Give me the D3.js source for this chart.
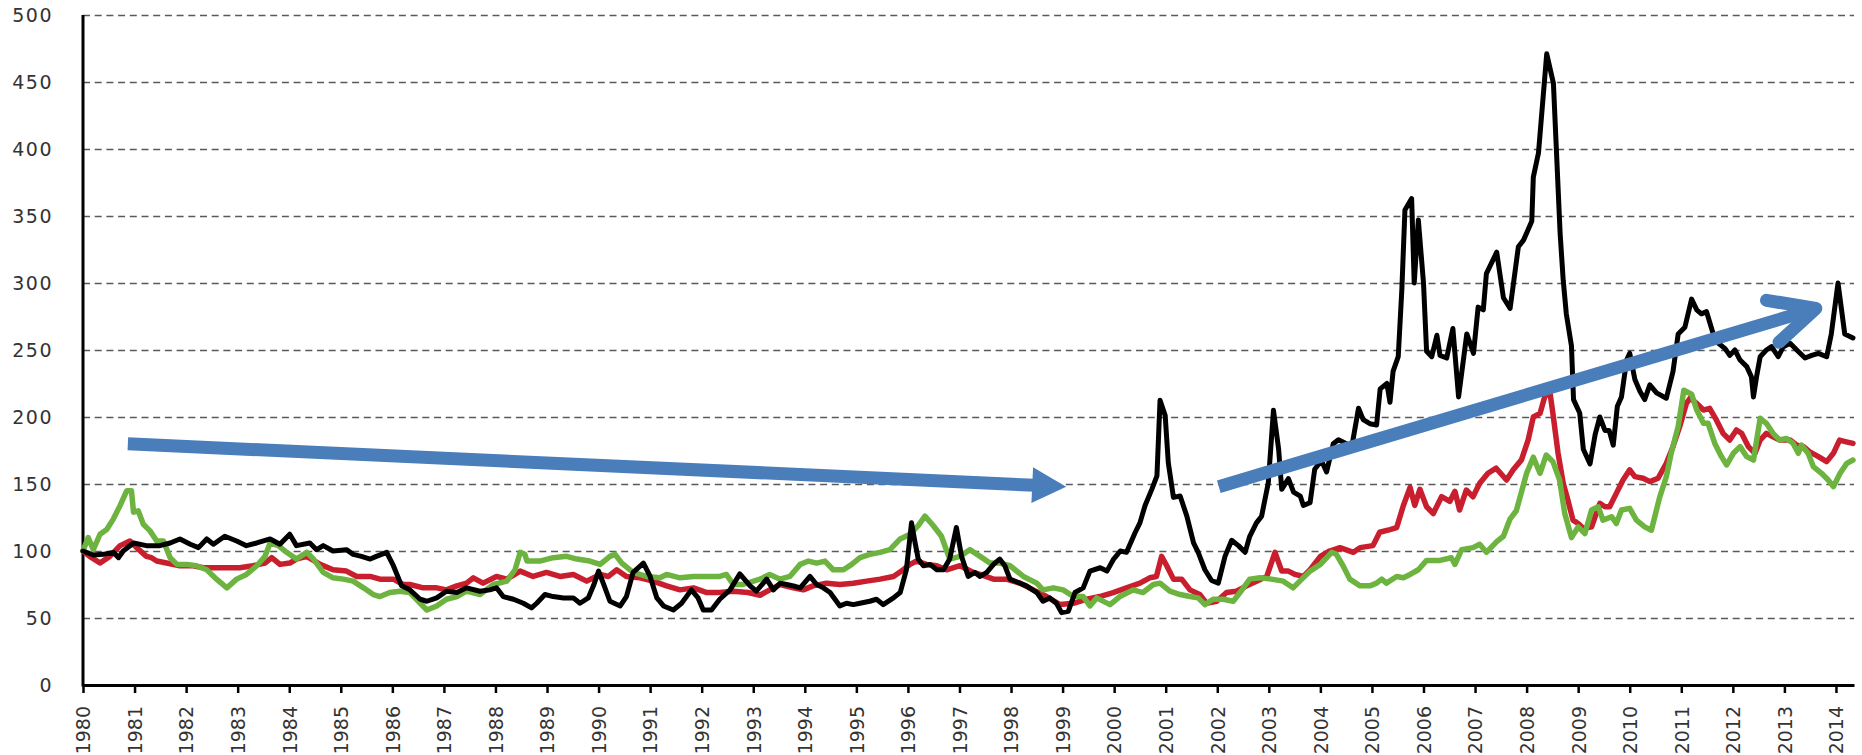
<!DOCTYPE html>
<html>
<head>
<meta charset="utf-8">
<script src="https://cdn.jsdelivr.net/npm/d3@7.9.0/dist/d3.min.js"></script>
<style>
    body { margin: 0; background: #fff; }
    svg { display: block; }
    .tick-label { font-family: "DejaVu Sans", sans-serif; font-size: 19px; fill: #333; }
</style>
</head>
<body>
<div id="chart-container"></div>
<script>
// [decimal year, index value]
const blackSeries = [
    [1980.00, 100], [1980.20, 97], [1980.39, 97.5], [1980.59, 99], [1980.69, 95], [1980.78, 100], [1980.98, 106],
    [1981.23, 104], [1981.49, 104], [1981.69, 106], [1981.88, 109], [1982.08, 105], [1982.24, 102.5], [1982.40, 109],
    [1982.53, 105], [1982.75, 111], [1982.98, 107.5], [1983.17, 104], [1983.37, 106], [1983.63, 109], [1983.82, 105],
    [1984.01, 112.5], [1984.14, 104], [1984.40, 106], [1984.53, 101], [1984.66, 104], [1984.85, 100], [1985.11, 101],
    [1985.24, 97.5], [1985.40, 96], [1985.57, 94], [1985.69, 96], [1985.89, 99], [1986.02, 89], [1986.18, 74],
    [1986.34, 71], [1986.54, 64], [1986.67, 62.5], [1986.86, 65], [1987.05, 70], [1987.25, 69], [1987.44, 72.5],
    [1987.70, 70], [1987.89, 71], [1988.02, 72.5], [1988.15, 66], [1988.35, 64], [1988.54, 61], [1988.70, 57.5],
    [1988.80, 61], [1988.96, 67.5], [1989.12, 66], [1989.32, 65], [1989.51, 65], [1989.64, 61], [1989.80, 65],
    [1989.90, 74], [1990.00, 85], [1990.09, 76], [1990.22, 62.5], [1990.42, 59], [1990.54, 66], [1990.67, 84],
    [1990.87, 91], [1991.00, 81], [1991.13, 65], [1991.26, 59], [1991.45, 56], [1991.61, 61], [1991.80, 71],
    [1991.93, 65], [1992.03, 56], [1992.19, 56], [1992.35, 64], [1992.55, 71], [1992.74, 83], [1992.94, 74],
    [1993.06, 70], [1993.26, 79], [1993.39, 71], [1993.52, 76], [1993.65, 75], [1993.78, 74], [1993.91, 72.5],
    [1994.10, 81], [1994.23, 75], [1994.36, 72.5], [1994.49, 69], [1994.68, 59], [1994.81, 61], [1994.94, 60],
    [1995.07, 61], [1995.26, 62.5], [1995.39, 64], [1995.52, 60], [1995.72, 65], [1995.85, 69], [1995.97, 86],
    [1996.07, 121], [1996.14, 106], [1996.20, 94], [1996.30, 89], [1996.43, 90], [1996.56, 86], [1996.69, 86],
    [1996.81, 94], [1996.94, 117.5], [1997.04, 96], [1997.17, 81], [1997.30, 84], [1997.40, 81], [1997.53, 84],
    [1997.66, 90], [1997.78, 94], [1997.88, 89], [1997.98, 79], [1998.17, 76], [1998.30, 74], [1998.50, 69],
    [1998.62, 62.5], [1998.75, 65], [1998.88, 61], [1998.98, 54], [1999.11, 55], [1999.24, 69], [1999.40, 72.5],
    [1999.53, 85], [1999.73, 87.5], [1999.86, 85], [1999.99, 94], [2000.12, 100], [2000.24, 99], [2000.41, 114],
    [2000.50, 121], [2000.60, 134], [2000.73, 146], [2000.83, 156], [2000.89, 212.5], [2000.99, 201], [2001.05, 166],
    [2001.15, 140], [2001.28, 141], [2001.41, 126], [2001.54, 106], [2001.63, 99], [2001.76, 86], [2001.89, 78],
    [2002.02, 76], [2002.15, 96], [2002.28, 108], [2002.41, 104], [2002.54, 99], [2002.63, 111], [2002.76, 121],
    [2002.86, 126], [2002.99, 151], [2003.09, 205], [2003.19, 176], [2003.25, 146], [2003.38, 154], [2003.48, 144],
    [2003.61, 141], [2003.67, 134], [2003.80, 136], [2003.89, 161], [2004.02, 167.5], [2004.12, 159], [2004.25, 180],
    [2004.35, 183], [2004.61, 178], [2004.74, 206.5], [2004.83, 198], [2004.96, 195], [2005.09, 194], [2005.16, 221],
    [2005.29, 225], [2005.35, 211], [2005.41, 234], [2005.51, 245], [2005.58, 295], [2005.64, 354.5], [2005.77, 363],
    [2005.82, 300], [2005.90, 347], [2006.00, 300], [2006.06, 249], [2006.16, 245], [2006.26, 261], [2006.32, 246],
    [2006.45, 244], [2006.57, 266], [2006.68, 215], [2006.84, 262], [2006.97, 247.5], [2007.06, 282], [2007.16, 280],
    [2007.22, 307], [2007.42, 323], [2007.55, 289], [2007.68, 281], [2007.84, 327], [2007.94, 332], [2008.10, 346],
    [2008.13, 379], [2008.23, 397], [2008.39, 471], [2008.52, 449], [2008.65, 337], [2008.71, 302], [2008.77, 277],
    [2008.87, 253], [2008.91, 213], [2009.03, 203], [2009.10, 176], [2009.23, 165], [2009.33, 187], [2009.42, 200],
    [2009.52, 190], [2009.60, 190], [2009.68, 179], [2009.76, 208], [2009.84, 215], [2009.94, 242.5], [2010.00, 247.5],
    [2010.10, 228], [2010.20, 219], [2010.29, 213], [2010.39, 224], [2010.52, 218], [2010.71, 214], [2010.84, 234],
    [2010.94, 262], [2011.07, 267], [2011.20, 288], [2011.30, 280], [2011.39, 277], [2011.49, 278.6], [2011.62, 262],
    [2011.72, 255], [2011.85, 251], [2011.94, 246], [2012.04, 250], [2012.14, 242.5], [2012.27, 237.6], [2012.36, 230],
    [2012.40, 215], [2012.46, 230], [2012.53, 245], [2012.65, 250], [2012.75, 252.5], [2012.88, 245], [2012.98, 252.5],
    [2013.11, 255], [2013.24, 250], [2013.40, 244], [2013.53, 246], [2013.66, 247.5], [2013.82, 245], [2013.91, 262],
    [2014.04, 300], [2014.17, 262], [2014.33, 259]
];

const redSeries = [
    [1980.00, 100], [1980.13, 96], [1980.33, 91], [1980.52, 96], [1980.72, 104], [1980.91, 107.5], [1981.04, 102.5],
    [1981.23, 96], [1981.33, 95], [1981.43, 92.5], [1981.62, 91], [1981.88, 89], [1982.14, 89], [1982.33, 87.5],
    [1982.53, 87.5], [1982.79, 87.5], [1983.04, 87.5], [1983.30, 89], [1983.53, 91], [1983.66, 95], [1983.82, 90],
    [1984.01, 91], [1984.14, 94], [1984.34, 96], [1984.60, 90], [1984.85, 86], [1985.11, 85], [1985.31, 81],
    [1985.57, 81], [1985.76, 79], [1986.02, 79], [1986.21, 75], [1986.34, 75], [1986.60, 72.5], [1986.86, 72.5],
    [1987.05, 71], [1987.25, 74], [1987.44, 76], [1987.57, 80], [1987.76, 76], [1988.02, 81], [1988.22, 79],
    [1988.48, 85], [1988.73, 81], [1988.99, 84], [1989.25, 81], [1989.51, 82.5], [1989.77, 77.5], [1990.03, 82.5],
    [1990.19, 81], [1990.35, 86], [1990.54, 81], [1990.80, 80], [1991.06, 77.5], [1991.32, 74], [1991.58, 71],
    [1991.84, 72.5], [1992.10, 69], [1992.35, 69], [1992.61, 70], [1992.90, 69], [1993.13, 67], [1993.32, 71],
    [1993.52, 75], [1993.78, 72.5], [1993.97, 71], [1994.16, 74], [1994.42, 76], [1994.68, 75], [1994.94, 76],
    [1995.20, 77.5], [1995.46, 79], [1995.72, 81], [1995.91, 86], [1996.04, 90], [1996.17, 92.5], [1996.36, 90],
    [1996.56, 89], [1996.75, 86], [1997.01, 89], [1997.27, 84], [1997.40, 82.5], [1997.66, 79], [1997.91, 79],
    [1998.17, 76], [1998.43, 71], [1998.69, 66], [1998.95, 60], [1999.21, 61], [1999.47, 64], [1999.72, 66],
    [1999.98, 69], [2000.24, 72.5], [2000.50, 76], [2000.69, 80], [2000.82, 81], [2000.92, 96], [2001.02, 89],
    [2001.15, 79], [2001.31, 79], [2001.47, 71], [2001.66, 67.5], [2001.79, 61], [2001.99, 62.5], [2002.18, 69],
    [2002.37, 70], [2002.57, 74], [2002.76, 77.5], [2002.96, 81], [2003.12, 99], [2003.25, 85], [2003.38, 85],
    [2003.51, 82.5], [2003.67, 81], [2003.80, 86], [2004.00, 96], [2004.18, 100], [2004.38, 102.5], [2004.64, 99],
    [2004.77, 102.5], [2005.02, 104], [2005.15, 114], [2005.35, 116], [2005.48, 117.5], [2005.61, 134], [2005.74, 147.5],
    [2005.83, 134], [2005.93, 146], [2006.06, 133], [2006.19, 128], [2006.35, 140.5], [2006.51, 137], [2006.61, 144.5],
    [2006.70, 130.6], [2006.83, 145.5], [2006.96, 140.5], [2007.09, 150.5], [2007.25, 158], [2007.41, 161.8],
    [2007.61, 153], [2007.74, 160.6], [2007.90, 168], [2008.03, 183], [2008.13, 200], [2008.26, 202.7], [2008.35, 215],
    [2008.45, 219], [2008.51, 202.7], [2008.61, 173], [2008.71, 150.5], [2008.80, 138], [2008.90, 123], [2009.00, 120.5],
    [2009.10, 116.8], [2009.26, 118], [2009.42, 135.5], [2009.52, 133], [2009.61, 133], [2009.74, 143], [2009.87, 153],
    [2010.00, 160.6], [2010.10, 155.5], [2010.26, 154.3], [2010.39, 151.8], [2010.55, 154.3], [2010.71, 165.5],
    [2010.84, 178], [2010.97, 193], [2011.10, 210.2], [2011.17, 214], [2011.30, 210.2], [2011.43, 205.2],
    [2011.55, 206.5], [2011.68, 197.8], [2011.81, 187.8], [2011.94, 182.8], [2012.07, 190.3], [2012.17, 187.8],
    [2012.30, 177.9], [2012.43, 172.9], [2012.53, 182.8], [2012.65, 187.8], [2012.78, 185.3], [2012.91, 182.8],
    [2013.11, 182.8], [2013.24, 179], [2013.37, 177.9], [2013.49, 174], [2013.66, 170.4], [2013.82, 166.7],
    [2013.95, 172.9], [2014.07, 182.8], [2014.20, 181.5], [2014.33, 180.3]
];

const greenSeries = [
    [1980.00, 100], [1980.10, 110], [1980.20, 101], [1980.33, 112.5], [1980.46, 116], [1980.59, 124], [1980.72, 134],
    [1980.85, 145], [1980.94, 145], [1980.98, 129], [1981.07, 130], [1981.17, 120], [1981.30, 115], [1981.43, 107.5],
    [1981.56, 107.5], [1981.69, 95], [1981.82, 90], [1982.01, 90], [1982.20, 89], [1982.40, 86], [1982.59, 79],
    [1982.79, 72.5], [1982.98, 79], [1983.17, 82.5], [1983.37, 89], [1983.53, 96], [1983.63, 106], [1983.79, 104],
    [1983.95, 99], [1984.14, 94], [1984.34, 99], [1984.47, 94], [1984.66, 84], [1984.85, 80], [1985.05, 79],
    [1985.24, 77.5], [1985.44, 72.5], [1985.63, 67.5], [1985.76, 66], [1985.95, 69], [1986.15, 70], [1986.34, 69],
    [1986.54, 61], [1986.67, 56], [1986.86, 59], [1987.05, 64], [1987.25, 66], [1987.44, 70], [1987.70, 67.5],
    [1987.96, 75], [1988.22, 77.5], [1988.38, 86], [1988.48, 99], [1988.57, 97.5], [1988.61, 92.5], [1988.86, 92.5],
    [1989.12, 95], [1989.38, 96], [1989.58, 94], [1989.83, 92.5], [1990.03, 90], [1990.22, 96], [1990.32, 97.5],
    [1990.45, 91], [1990.67, 84], [1990.93, 81], [1991.19, 80], [1991.32, 82.5], [1991.58, 80], [1991.84, 81],
    [1992.10, 81], [1992.35, 81], [1992.48, 82.5], [1992.61, 75], [1992.80, 75], [1993.13, 79], [1993.32, 82.5],
    [1993.52, 79], [1993.71, 81], [1993.91, 90], [1994.07, 92.5], [1994.23, 91], [1994.39, 92.5], [1994.55, 86],
    [1994.75, 86], [1994.91, 90], [1995.07, 95], [1995.26, 97.5], [1995.46, 99], [1995.65, 101], [1995.85, 109],
    [1996.04, 112.5], [1996.20, 119], [1996.33, 126], [1996.49, 119], [1996.65, 111], [1996.81, 94], [1997.01, 96],
    [1997.20, 101], [1997.40, 96], [1997.59, 91], [1997.78, 91], [1997.98, 89], [1998.24, 81], [1998.50, 76],
    [1998.62, 71], [1998.82, 72.5], [1999.01, 71], [1999.21, 66], [1999.40, 66], [1999.53, 59], [1999.66, 65],
    [1999.92, 60], [2000.11, 66], [2000.37, 71], [2000.56, 69], [2000.76, 75], [2000.89, 76], [2001.08, 70],
    [2001.28, 67.5], [2001.47, 66], [2001.63, 65], [2001.76, 60], [2001.92, 64], [2002.12, 64], [2002.31, 62.5],
    [2002.44, 69], [2002.63, 79], [2002.83, 80], [2003.05, 79], [2003.28, 77.5], [2003.47, 72.5], [2003.60, 77.5],
    [2003.80, 85], [2004.00, 90], [2004.22, 99], [2004.31, 97.5], [2004.44, 89], [2004.57, 79], [2004.77, 74],
    [2004.96, 74], [2005.09, 76], [2005.19, 79], [2005.28, 76], [2005.48, 81], [2005.61, 80], [2005.74, 82.5],
    [2005.90, 86], [2006.06, 93], [2006.32, 93], [2006.54, 95], [2006.61, 90], [2006.74, 101], [2006.96, 102.5],
    [2007.09, 105], [2007.22, 99], [2007.42, 107], [2007.55, 111], [2007.68, 124], [2007.80, 130], [2008.00, 158],
    [2008.13, 170], [2008.26, 158], [2008.38, 171.6], [2008.51, 166.7], [2008.64, 153], [2008.74, 128], [2008.87, 110],
    [2009.00, 118], [2009.13, 113], [2009.26, 130.6], [2009.39, 133], [2009.48, 123], [2009.65, 125.6], [2009.74, 120.5],
    [2009.84, 130.6], [2010.00, 131.8], [2010.13, 123], [2010.29, 118], [2010.42, 115.5], [2010.58, 140],
    [2010.71, 155.5], [2010.81, 174], [2010.94, 193], [2011.05, 220], [2011.20, 217], [2011.30, 205.2], [2011.43, 195.3],
    [2011.52, 195.3], [2011.65, 180.3], [2011.78, 170.4], [2011.88, 164.2], [2012.01, 172.9], [2012.14, 177.9],
    [2012.27, 170.4], [2012.40, 167.9], [2012.53, 199], [2012.65, 195.3], [2012.78, 187.8], [2012.91, 182.8],
    [2013.04, 184], [2013.17, 180.3], [2013.27, 172.9], [2013.33, 179], [2013.46, 172.9], [2013.56, 163], [2013.72, 158],
    [2013.85, 153], [2013.95, 148], [2014.08, 158], [2014.21, 165.4], [2014.33, 167.9]
];

const yearTicks = d3.range(1980, 2015);
const valueTicks = [0, 50, 100, 150, 200, 250, 300, 350, 400, 450, 500];

// trend arrows, [year, value] start and end
const arrowDown = [[1980.87, 180], [1999.07, 148]];
const arrowUp = [[2002.03, 148], [2013.61, 281]];

const width = 1862;
const height = 755;
const margin = { top: 15, right: 8, bottom: 70, left: 83 };

const svg = d3.select("#chart-container").append("svg")
    .attr("width", width)
    .attr("height", height);

const x = d3.scaleLinear()
    .domain([1980, 2014.35])
    .range([margin.left, width - margin.right]);

const y = d3.scaleLinear()
    .domain([0, 500])
    .range([height - margin.bottom, margin.top]);

// dashed grid
svg.append("g")
    .attr("class", "grid")
    .attr("transform", `translate(${margin.left},0)`)
    .call(d3.axisLeft(y)
        .tickValues(valueTicks.filter(d => d > 0))
        .tickSize(-(x.range()[1] - margin.left))
        .tickFormat(""))
    .call(g => g.select(".domain").remove())
    .call(g => g.selectAll("line")
        .attr("stroke", "#5a5a5a")
        .attr("stroke-width", 1.6)
        .attr("stroke-dasharray", "7,4.7"));

// y labels
svg.append("g")
    .selectAll("text")
    .data(valueTicks)
    .enter().append("text")
    .attr("class", "tick-label")
    .attr("x", 53)
    .attr("y", d => y(d))
    .attr("dy", "0.36em")
    .attr("text-anchor", "end")
    .style("letter-spacing", "1.5px")
    .text(d => d);

// x axis with year ticks
const xAxis = svg.append("g")
    .attr("transform", `translate(0,${y(0)})`)
    .call(d3.axisBottom(x)
        .tickValues(yearTicks)
        .tickSize(8)
        .tickSizeOuter(0)
        .tickFormat(""));
xAxis.select(".domain").attr("stroke", "#000").attr("stroke-width", 3);
xAxis.selectAll(".tick line").attr("stroke", "#000").attr("stroke-width", 2.5);

xAxis.selectAll(".tick")
    .append("text")
    .attr("class", "tick-label")
    .attr("transform", "translate(0,21) rotate(-90)")
    .attr("dy", "0.36em")
    .attr("text-anchor", "end")
    .attr("fill", null)
    .text(d => d);
xAxis.attr("font-family", null).attr("font-size", null);

// y axis line
svg.append("line")
    .attr("x1", margin.left)
    .attr("x2", margin.left)
    .attr("y1", y(500))
    .attr("y2", y(0) + 1.5)
    .attr("stroke", "#000")
    .attr("stroke-width", 3);

const line = d3.line()
    .x(d => x(d[0]))
    .y(d => y(d[1]));

const seriesList = [
    { data: redSeries, color: "#c81e2d", width: 5.5 },
    { data: greenSeries, color: "#6cb33f", width: 5.5 },
    { data: blackSeries, color: "#000000", width: 5 }
];

svg.append("g")
    .selectAll("path")
    .data(seriesList)
    .enter().append("path")
    .attr("d", d => line(d.data))
    .attr("fill", "none")
    .attr("stroke", d => d.color)
    .attr("stroke-width", d => d.width)
    .attr("stroke-linejoin", "round")
    .attr("stroke-linecap", "round");

const arrowColor = "#4a7ebb";
const arrows = svg.append("g").attr("class", "arrows");

// down arrow: filled triangular head
{
    const [s, e] = arrowDown.map(p => [x(p[0]), y(p[1])]);
    const ang = Math.atan2(e[1] - s[1], e[0] - s[0]);
    const headLen = 34;
    const headHalf = 18;
    const bx = e[0] - headLen * Math.cos(ang);
    const by = e[1] - headLen * Math.sin(ang);
    arrows.append("line")
        .attr("x1", s[0]).attr("y1", s[1])
        .attr("x2", bx + 2 * Math.cos(ang)).attr("y2", by + 2 * Math.sin(ang))
        .attr("stroke", arrowColor)
        .attr("stroke-width", 13);
    const px = -Math.sin(ang), py = Math.cos(ang);
    arrows.append("path")
        .attr("d", d3.line()([
            [bx + headHalf * px, by + headHalf * py],
            e,
            [bx - headHalf * px, by - headHalf * py]
        ]) + "Z")
        .attr("fill", arrowColor);
}

// up arrow: open chevron head
{
    const [s, e] = arrowUp.map(p => [x(p[0]), y(p[1])]);
    const ang = Math.atan2(e[1] - s[1], e[0] - s[0]);
    const armLen = 50;
    const spread = 26 * Math.PI / 180;
    arrows.append("line")
        .attr("x1", s[0]).attr("y1", s[1])
        .attr("x2", e[0]).attr("y2", e[1])
        .attr("stroke", arrowColor)
        .attr("stroke-width", 13);
    const a1 = ang + Math.PI - spread;
    const a2 = ang + Math.PI + spread;
    arrows.append("path")
        .attr("d", d3.line()([
            [e[0] + armLen * Math.cos(a1), e[1] + armLen * Math.sin(a1)],
            e,
            [e[0] + armLen * Math.cos(a2), e[1] + armLen * Math.sin(a2)]
        ]))
        .attr("fill", "none")
        .attr("stroke", arrowColor)
        .attr("stroke-width", 13)
        .attr("stroke-linecap", "round")
        .attr("stroke-linejoin", "round");
}
</script>
</body>
</html>
